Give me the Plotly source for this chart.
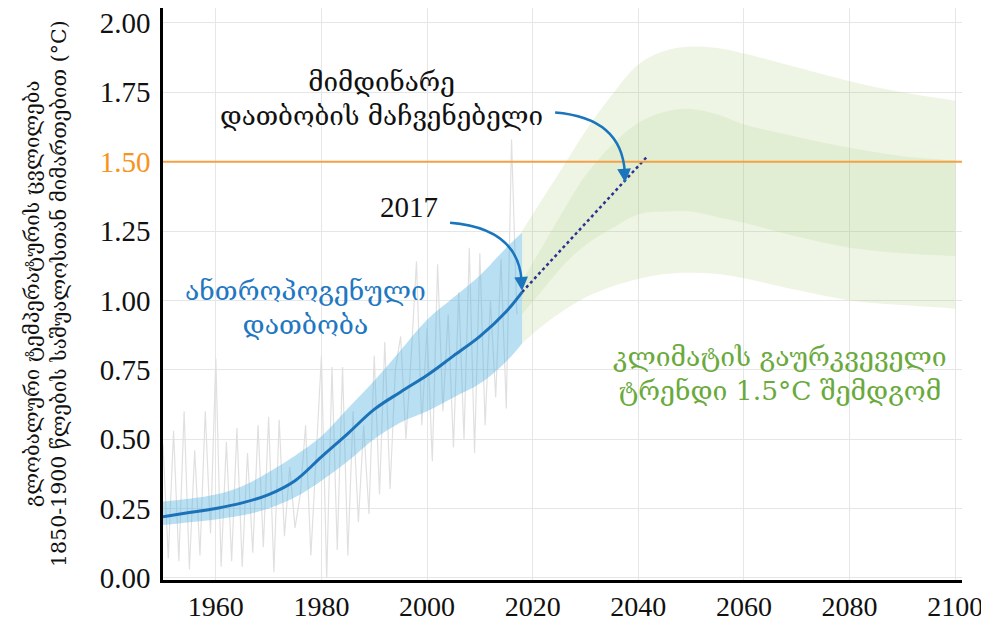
import plotly.graph_objects as go

# ---------------- data ----------------
obs_years = list(range(1950, 2018))
obs_anom = [0.48, 0.07, 0.53, 0.06, 0.60, 0.03, 0.46, 0.08, 0.60, 0.16,
            0.79, 0.04, 0.49, 0.06, 0.54, 0.04, 0.45, 0.09, 0.55, 0.11,
            0.58, 0.02, 0.57, 0.15, 0.40, 0.18, 0.30, 0.55, 0.08, 0.45,
            0.80, 0.00, 0.76, 0.10, 0.76, 0.08, 0.60, 0.20, 0.55, 0.23,
            0.80, 0.30, 0.85, 0.32, 0.75, 0.87, 0.50, 0.80, 1.14, 0.55,
            0.90, 0.42, 1.13, 0.60, 0.95, 0.47, 1.03, 0.50, 1.19, 0.45,
            1.17, 0.55, 1.00, 0.65, 1.15, 0.61, 1.58, 0.95]

smooth_years = [1950, 1955, 1960, 1965, 1970, 1975, 1980, 1985, 1990, 1995,
                2000, 2005, 2010, 2015, 2018]
smooth_mid = [0.22, 0.235, 0.25, 0.27, 0.30, 0.35, 0.436, 0.52, 0.607, 0.67,
              0.73, 0.80, 0.87, 0.96, 1.03]
smooth_hi = [0.275, 0.285, 0.30, 0.33, 0.38, 0.44, 0.51, 0.61, 0.71, 0.82,
             0.93, 1.01, 1.09, 1.19, 1.245]
smooth_lo = [0.19, 0.20, 0.21, 0.225, 0.25, 0.29, 0.35, 0.42, 0.50, 0.56,
             0.60, 0.65, 0.70, 0.78, 0.845]

proj_years = [2018, 2022, 2026, 2030, 2035, 2040, 2045, 2050, 2055, 2060,
              2070, 2080, 2090, 2100]
outer_hi = [1.25, 1.37, 1.49, 1.61, 1.74, 1.85, 1.90, 1.915, 1.91, 1.89,
            1.84, 1.79, 1.75, 1.72]
outer_lo = [0.845, 0.91, 0.965, 1.01, 1.05, 1.077, 1.095, 1.10, 1.095, 1.08,
            1.037, 1.00, 0.983, 0.97]
inner_hi = [1.07, 1.20, 1.33, 1.45, 1.56, 1.64, 1.68, 1.69, 1.67, 1.635,
            1.59, 1.55, 1.52, 1.505]
inner_lo = [0.95, 1.04, 1.13, 1.20, 1.26, 1.31, 1.32, 1.32, 1.30, 1.28,
            1.23, 1.19, 1.17, 1.16]

trend_years = [2018, 2041.5]
trend_vals = [1.03, 1.515]

limit_value = 1.5

x_ticks = [1960, 1980, 2000, 2020, 2040, 2060, 2080, 2100]
y_ticks = [0, 0.25, 0.5, 0.75, 1.0, 1.25, 1.5, 1.75, 2.0]

# ---------------- styles ----------------
SERIF = "Liberation Serif, DejaVu Serif, serif"
GEO = "DejaVu Serif, DejaVu Sans, serif"
BLUE = "#1b72b8"
ARROW = "#1b75bc"
ORANGE = "#f5a043"
GREEN_TXT = "#6aaa3c"

# page body has an 8px margin, so the figure is sized to fill the rest of the window
FIG_W, FIG_H = 981, 616
M_L, M_R, M_T, M_B = 155, 27, 0, 44

fig = go.Figure()

# projection outer band
fig.add_trace(go.Scatter(x=proj_years, y=outer_lo, mode="lines", line=dict(width=0, shape="spline"),
                         hoverinfo="skip", showlegend=False))
fig.add_trace(go.Scatter(x=proj_years, y=outer_hi, mode="lines", line=dict(width=0, shape="spline"),
                         fill="tonexty", fillcolor="rgba(160,200,110,0.18)", hoverinfo="skip", showlegend=False))
# projection inner band
fig.add_trace(go.Scatter(x=proj_years, y=inner_lo, mode="lines", line=dict(width=0, shape="spline"),
                         hoverinfo="skip", showlegend=False))
fig.add_trace(go.Scatter(x=proj_years, y=inner_hi, mode="lines", line=dict(width=0, shape="spline"),
                         fill="tonexty", fillcolor="rgba(160,200,110,0.15)", hoverinfo="skip", showlegend=False))

# observed noisy series
fig.add_trace(go.Scatter(x=obs_years, y=obs_anom, mode="lines", line=dict(color="#e0e0e0", width=1.2),
                         hoverinfo="skip", showlegend=False))

# anthropogenic band
fig.add_trace(go.Scatter(x=smooth_years, y=smooth_lo, mode="lines", line=dict(width=0, shape="spline"),
                         hoverinfo="skip", showlegend=False))
fig.add_trace(go.Scatter(x=smooth_years, y=smooth_hi, mode="lines", line=dict(width=0, shape="spline"),
                         fill="tonexty", fillcolor="rgba(80,175,225,0.40)", hoverinfo="skip", showlegend=False))
fig.add_trace(go.Scatter(x=smooth_years, y=smooth_mid, mode="lines",
                         line=dict(color=BLUE, width=3, shape="spline"), hoverinfo="skip", showlegend=False))

# trend extension (dotted)
fig.add_trace(go.Scatter(x=trend_years, y=trend_vals, mode="lines",
                         line=dict(color="#2e3192", width=2.5, dash="dot"), hoverinfo="skip", showlegend=False))

# 1.5 line
fig.add_shape(type="line", xref="paper", x0=0, x1=1, yref="y", y0=limit_value, y1=limit_value,
              line=dict(color=ORANGE, width=2), layer="above")

# curved arrows
fig.add_shape(type="path", xref="x", yref="y",
              path="M 2004.36,1.280 Q 2017.04,1.261 2017.9,1.075",
              line=dict(color=ARROW, width=2.5))
fig.add_shape(type="path", xref="x", yref="y",
              path="M 2024.25,1.677 Q 2036.9,1.658 2037.45,1.46",
              line=dict(color=ARROW, width=2.5))
for tx, ty in [(2018.0, 1.035), (2037.5, 1.425)]:
    fig.add_annotation(x=tx, y=ty, xref="x", yref="y", text="", showarrow=True,
                       ax=-1, ay=-14, arrowhead=2, arrowsize=1.1, arrowwidth=2.5,
                       arrowcolor=ARROW, standoff=0)

# text annotations
fig.add_annotation(x=1991.3, y=1.726, xref="x", yref="y", showarrow=False,
                   text="მიმდინარე<br>დათბობის მაჩვენებელი",
                   font=dict(family=GEO, size=26, color="#111111"), align="center")
fig.add_annotation(x=1996.6, y=1.335, xref="x", yref="y", showarrow=False,
                   text="2017", font=dict(family=SERIF, size=29, color="#111111"))
fig.add_annotation(x=1976.9, y=0.974, xref="x", yref="y", showarrow=False,
                   text="ანთროპოგენული<br>დათბობა",
                   font=dict(family=GEO, size=26.5, color="#1f78c1"), align="center")
fig.add_annotation(x=2066.8, y=0.735, xref="x", yref="y", showarrow=False,
                   text="კლიმატის გაურკვეველი<br>ტრენდი 1.5°C შემდგომ",
                   font=dict(family=GEO, size=26.5, color=GREEN_TXT), align="center")

# y-axis title, centred ~45 px from the window's left edge
plot_w = FIG_W - M_L - M_R
fig.add_annotation(x=(45 - 8 - M_L) / plot_w, y=0.5, xref="paper", yref="paper",
                   xanchor="center", yanchor="middle", showarrow=False, textangle=-90,
                   text="გლობალური ტემპერატურის ცვლილება<br>1850-1900 წლების საშუალოსთან მიმართებით (°C)",
                   font=dict(family=GEO, size=20.5, color="#111111"), align="center")

y_ticktext = []
for v in y_ticks:
    s = f"{v:.2f}"
    if abs(v - limit_value) < 1e-9:
        s = f"<span style='color:#f7941d'>{s}</span>"
    y_ticktext.append(s)

fig.update_layout(
    width=FIG_W, height=FIG_H,
    margin=dict(l=M_L, r=M_R, t=M_T, b=M_B, autoexpand=False),
    paper_bgcolor="white", plot_bgcolor="white",
    showlegend=False,
    xaxis=dict(range=[1950, 2101.3], tickvals=x_ticks, ticktext=[str(t) for t in x_ticks],
               showgrid=True, gridcolor="#e6e6e6", gridwidth=1, zeroline=False,
               showline=True, linecolor="black", linewidth=2.5, ticks="",
               ticklabelstandoff=0, automargin=False, ticklabeloverflow="allow",
               tickfont=dict(family=SERIF, size=28, color="#111111")),
    yaxis=dict(range=[-0.008, 2.054], tickvals=y_ticks, ticktext=y_ticktext,
               showgrid=True, gridcolor="#e6e6e6", gridwidth=1, zeroline=False,
               showline=True, linecolor="black", linewidth=2.5, ticks="",
               ticklabelstandoff=4, automargin=False, ticklabeloverflow="allow",
               tickfont=dict(family=SERIF, size=29, color="#111111")),
)

fig.write_html("out.html")
